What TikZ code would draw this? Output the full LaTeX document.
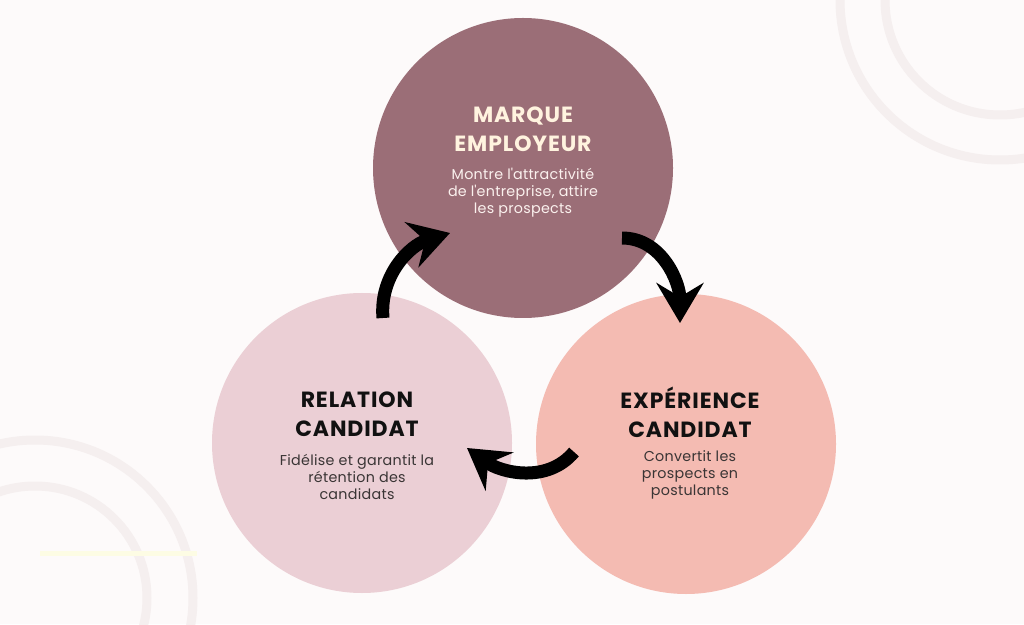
\documentclass[tikz,border=0pt]{standalone}
\usepackage{fontspec}
\setmainfont{Poppins}
\newfontfamily\titrefont{Poppins}[LetterSpace=4]
\newfontfamily\textefont{Poppins}[LetterSpace=2]
\usetikzlibrary{arrows.meta}
\definecolor{fond}{HTML}{FDFAFA}
\definecolor{anneau}{HTML}{F5EFEF}
\definecolor{jaune}{HTML}{FDFCE4}
\definecolor{mauve}{HTML}{9B6E77}
\definecolor{saumon}{HTML}{F4BBB2}
\definecolor{rose}{HTML}{EBCFD5}
\definecolor{creme}{HTML}{FFF3DF}
\definecolor{cremeclair}{HTML}{FBF1EE}
\definecolor{noir}{HTML}{111111}
\definecolor{gris}{HTML}{3A3535}
\tikzset{
  cercle/.style={circle,minimum size=300pt,inner sep=0pt},
  titre/.style={font=\titrefont\bfseries\fontsize{22}{29}\selectfont,align=center,inner sep=0pt},
  texte/.style={font=\textefont\fontsize{14.3}{17}\selectfont,align=center,inner sep=0pt},
  fleche/.style={line width=13pt,-{Stealth[length=40pt,width=47pt,inset=14pt]}},
  deco/.style={draw=anneau,line width=9pt},
}
\begin{document}
\begin{tikzpicture}[x=1pt,y=1pt]
\useasboundingbox (0,0) rectangle (1024,624);
\fill[fond] (0,0) rectangle (1024,624);
%
\begin{scope}
\clip (0,0) rectangle (1024,624);
\draw[deco] (1000,624) circle (160);
\draw[deco] (1000,624) circle (115);
\draw[deco] (35,26) circle (158);
\draw[deco] (35,26) circle (112);
\end{scope}
\draw[jaune,line width=5pt] (40,71) -- (197,71);
%
\node at (523,456) [cercle,fill=mauve] (marque) {};
\node at (686,180) [cercle,fill=saumon] (experience) {};
\node at (362,181) [cercle,fill=rose] (relation) {};
%
\node at (523,495) [titre,text=creme] (marquetitre) {MARQUE\\EMPLOYEUR};
\node at (523,431) [texte,text=cremeclair] (marquetexte) {Montre l\textquotesingle attractivité\\de l\textquotesingle entreprise, attire\\les prospects};
%
\node at (690,212) [titre,text=noir] (experiencetitre) {EXPÉRIENCE\\CANDIDAT};
\node at (690,149) [texte,text=gris] (experiencetexte) {Convertit les\\prospects en\\postulants};
%
\node at (357,210) [titre,text=noir] (relationtitre) {RELATION\\CANDIDAT};
\node at (357,147.5) [texte,text=gris] (relationtexte) {Fidélise et garantit la\\rétention des\\candidats};
%
\coordinate (f1a) at (622,386);
\coordinate (f1b) at (680,301);
\coordinate (f2a) at (574,172);
\coordinate (f2b) at (467,176);
\coordinate (f3a) at (383,306);
\coordinate (f3b) at (450,391);
%
\draw[fleche] (f1a) to[out=0,in=90] (f1b);
\draw[fleche] (f2a) to[out=230,in=-36] (f2b);
\draw[fleche] (f3a) to[out=95,in=197] (f3b);
\end{tikzpicture}
\end{document}
